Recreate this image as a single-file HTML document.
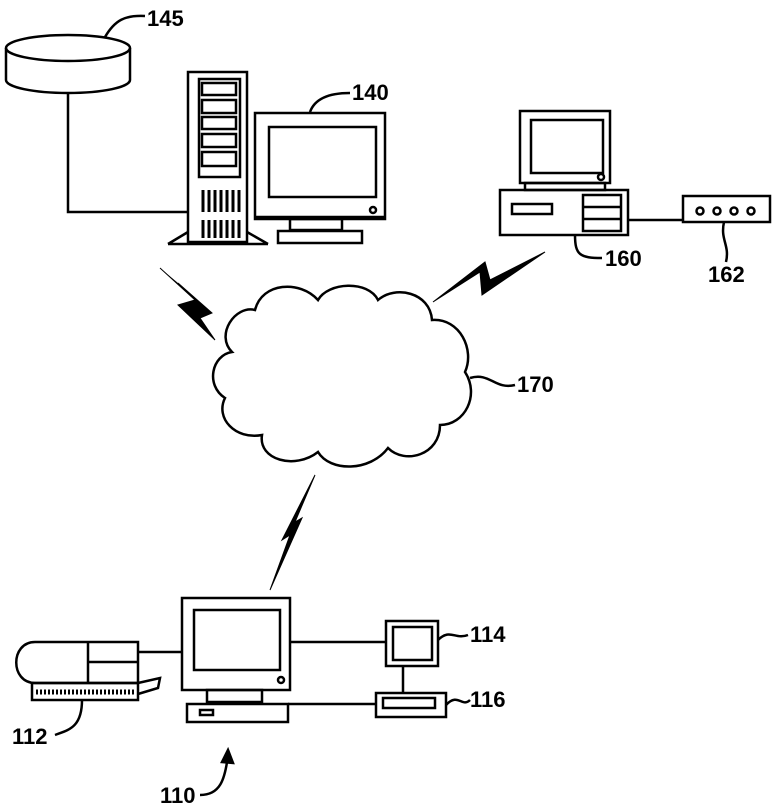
<!DOCTYPE html>
<html><head><style>
html,body{margin:0;padding:0;background:#fff;}
svg{display:block;}
text{font-family:"Liberation Sans",sans-serif;font-weight:bold;font-size:22px;fill:#000;}
</style></head><body>
<svg width="775" height="812" viewBox="0 0 775 812" xmlns="http://www.w3.org/2000/svg" fill="none" stroke="#000" stroke-width="2.5">
<!-- Disk 145 -->
<path d="M6 48 L6 80 A62 13 0 0 0 130 80 L130 48"/>
<ellipse cx="68" cy="48" rx="62" ry="13"/>
<path d="M68 93 L68 212 L188 212"/>
<path d="M105 37 C115 20 125 15 145 16"/>
<text x="147" y="26" stroke="none">145</text>
<!-- Tower -->
<rect x="188" y="72" width="59" height="170"/>
<rect x="199" y="79" width="41" height="98"/>
<rect x="202" y="83" width="34" height="12"/>
<rect x="202" y="100" width="34" height="13"/>
<rect x="202" y="117" width="34" height="12"/>
<rect x="202" y="134" width="34" height="13"/>
<rect x="202" y="152" width="34" height="14"/>
<g stroke-width="3">
<path d="M203 190v22M209 190v22M215 190v22M221 190v22M227 190v22M233 190v22M239 190v22"/>
<path d="M203 220v18M209 220v18M215 220v18M221 220v18M227 220v18M233 220v18M239 220v18"/>
</g>
<path d="M168 244 L188 232 M247 232 L268 244 M168 244 L268 244"/>
<!-- Monitor 140 -->
<rect x="255" y="113" width="130" height="106"/>
<rect x="269" y="127" width="107" height="70"/>
<circle cx="373" cy="210" r="3"/>
<path d="M255 217 L385 217"/>
<rect x="290" y="219" width="52" height="11"/>
<rect x="278" y="231" width="84" height="12"/>
<path d="M310 112 C315 98 330 93 350 93"/>
<text x="352" y="100" stroke="none">140</text>
<!-- Computer 160 -->
<rect x="520" y="111" width="90" height="72"/>
<rect x="531" y="120" width="72" height="53"/>
<circle cx="601" cy="177" r="3"/>
<rect x="525" y="183" width="80" height="7"/>
<rect x="500" y="190" width="128" height="45"/>
<rect x="512" y="204" width="40" height="10"/>
<rect x="583" y="195" width="38" height="36"/>
<path d="M583 207h38M583 219h38"/>
<path d="M628 220 L683 220"/>
<rect x="683" y="196" width="87" height="26"/>
<circle cx="700" cy="211" r="3.5"/><circle cx="717" cy="211" r="3.5"/><circle cx="734" cy="211" r="3.5"/><circle cx="751" cy="211" r="3.5"/>
<path d="M575 235 C575 255 580 258 602 258"/>
<text x="605" y="266" stroke="none">160</text>
<path d="M724 222 C720 240 730 245 726 262"/>
<text x="708" y="282" stroke="none">162</text>
<!-- Lightning bolts -->
<path d="M160 268 L195 300 L178 305 L215 340 L200 318 L212 313 L178 283" fill="#000" stroke-width="1"/>
<path d="M433 302 L480 272 L482 295 L545 252 L490 280 L485 262 Z" fill="#000" stroke-width="1"/>
<path d="M270 590 L290 535 L282 540 L315 475 L295 522 L302 518 Z" fill="#000" stroke-width="1"/>
<!-- Cloud 170 -->
<path d="M255 310 C262 282 300 280 318 300 C328 282 368 280 378 300 C395 285 430 292 432 320 C460 318 475 350 465 372 C480 395 465 425 440 425 C440 455 405 465 388 448 C370 472 330 472 318 452 C295 470 258 460 262 435 C235 440 215 418 225 398 C205 385 212 355 232 352 C215 335 235 305 255 310 Z"/>
<path d="M470 378 C490 372 495 390 515 385"/>
<text x="517" y="392" stroke="none">170</text>
<!-- Bottom workstation 110 -->
<rect x="182" y="598" width="108" height="92"/>
<rect x="194" y="610" width="86" height="60"/>
<circle cx="281" cy="680" r="3"/>
<rect x="207" y="690" width="55" height="12"/>
<rect x="187" y="704" width="101" height="18"/>
<rect x="200" y="710" width="13" height="5"/>
<path d="M138 652 L182 652 M290 642 L385 642 M288 704 L375 704 M403 665 L403 693"/>
<!-- Scanner 112 -->
<path d="M35 642 L138 642 L138 683 L35 683 C10 683 10 642 35 642 Z"/>
<path d="M88 642 L88 683 M88 662 L138 662"/>
<rect x="32" y="683" width="106" height="17"/>
<path d="M36 692h98" stroke-width="5" stroke-dasharray="2 2"/>
<path d="M138 683 L160 678 L158 688 L138 694"/>
<path d="M82 700 C82 728 68 730 55 735"/>
<text x="12" y="744" stroke="none">112</text>
<!-- Monitor 114 -->
<rect x="386" y="621" width="52" height="45"/>
<rect x="393" y="627" width="39" height="33"/>
<path d="M438 640 C450 628 455 640 468 635"/>
<text x="470" y="642" stroke="none">114</text>
<!-- Device 116 -->
<rect x="376" y="693" width="70" height="24"/>
<rect x="383" y="698" width="52" height="10"/>
<path d="M446 705 C458 692 462 708 470 700"/>
<text x="470" y="707" stroke="none">116</text>
<!-- 110 arrow -->
<path d="M200 795 C220 795 225 780 228 755"/>
<path d="M222 762 L228 750 L233 763 Z" fill="#000"/>
<text x="160" y="803" stroke="none">110</text>
</svg>
</body></html>
